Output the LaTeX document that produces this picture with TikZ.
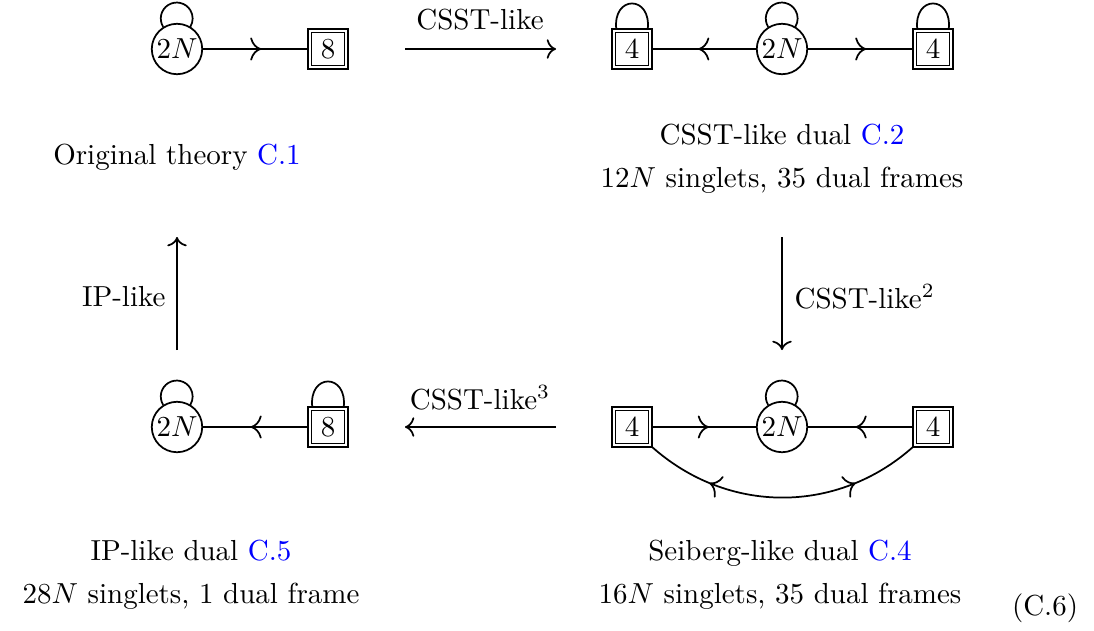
\documentclass[tikz,border=0pt]{standalone}
\usetikzlibrary{decorations.markings,arrows.meta}
\definecolor{linkblue}{RGB}{0,0,255}
\tikzset{
  gnode/.style={draw, circle, inner sep=0pt, minimum size=17.4pt, line width=0.6pt},
  fnode/.style={draw, double, double distance=0.7pt, line width=0.55pt, minimum size=12.7pt, inner sep=0pt},
  txt/.style={align=center, inner sep=0pt, font=\fontsize{10}{15}\selectfont},
  conn/.style={line width=0.6pt},
  tip/.tip={Computer Modern Rightarrow[scale=1.3]},
  midarrow/.style={conn, postaction={decorate}, decoration={markings, mark=at position 0.55 with {\arrow{tip}}}},
  twoarrow/.style={conn, postaction={decorate}, decoration={markings, mark=at position 0.24 with {\arrowreversed{tip}}, mark=at position 0.76 with {\arrow{tip}}}},
  bigarrow/.style={conn, -{Computer Modern Rightarrow[scale=1.1]}},
}
\newcommand{\gloop}[1]{\draw[conn] (#1.122) arc[start angle=211.8, end angle=-31.8, radius=5.5pt];}
\newcommand{\floop}[1]{\draw[conn] ([xshift=-5.4pt]#1.north) to[out=97,in=83,looseness=2.9] ([xshift=5.4pt]#1.north);}
\newcommand{\lnk}[1]{\textcolor{linkblue}{#1}}
\begin{document}
\begin{tikzpicture}[x=0.345pt,y=-0.345pt]
\useasboundingbox (0,0) rectangle (1094,630);
% top left: original theory
\node[gnode] (g1) at (177,49) {$2N$};
\node[fnode] (f1) at (328,49) {$8$};
\draw[midarrow] (g1) -- (f1);
\gloop{g1}
\node[txt] (t1) at (177,157) {Original theory \lnk{C.1}};
% top arrow
\coordinate (a1s) at (405,49);
\coordinate (a1e) at (556,49);
\draw[bigarrow] (a1s) -- (a1e);
\node[txt] (l1) at (480,20) {CSST-like};
% top right: CSST-like dual
\node[fnode] (f2a) at (632,49) {$4$};
\node[gnode] (g2) at (782,49) {$2N$};
\node[fnode] (f2b) at (933,49) {$4$};
\draw[midarrow] (g2) -- (f2a);
\draw[midarrow] (g2) -- (f2b);
\gloop{g2}
\floop{f2a}
\floop{f2b}
\node[txt] (t2) at (782,159) {CSST-like dual \lnk{C.2}\\ $12N$ singlets, 35 dual frames};
% right vertical arrow
\coordinate (a2s) at (782,237);
\coordinate (a2e) at (782,350);
\draw[bigarrow] (a2s) -- (a2e);
\node[txt, anchor=west] (l2) at (794,297) {CSST-like$^2$};
% bottom right: Seiberg-like dual
\node[fnode] (f4a) at (632,427) {$4$};
\node[gnode] (g4) at (782,427) {$2N$};
\node[fnode] (f4b) at (933,427) {$4$};
\draw[midarrow] (f4a) -- (g4);
\draw[midarrow] (f4b) -- (g4);
\gloop{g4}
\draw[twoarrow] (f4a.south east) to[bend right=42] (f4b.south west);
\node[txt] (t4) at (780,575) {Seiberg-like dual \lnk{C.4}\\ $16N$ singlets, 35 dual frames};
% bottom arrow
\coordinate (a3s) at (556,427);
\coordinate (a3e) at (405,427);
\draw[bigarrow] (a3s) -- (a3e);
\node[txt] (l3) at (480,398) {CSST-like$^3$};
% bottom left: IP-like dual
\node[gnode] (g5) at (177,427) {$2N$};
\node[fnode] (f5) at (328,427) {$8$};
\draw[midarrow] (f5) -- (g5);
\gloop{g5}
\floop{f5}
\node[txt] (t5) at (191,575) {IP-like dual \lnk{C.5}\\ $28N$ singlets, 1 dual frame};
% left vertical arrow
\coordinate (a4s) at (177,350);
\coordinate (a4e) at (177,237);
\draw[bigarrow] (a4s) -- (a4e);
\node[txt, anchor=east] (l4) at (166,297) {IP-like};
% equation number
\node[txt] (eq) at (1045,608) {(C.6)};
\end{tikzpicture}
\end{document}
